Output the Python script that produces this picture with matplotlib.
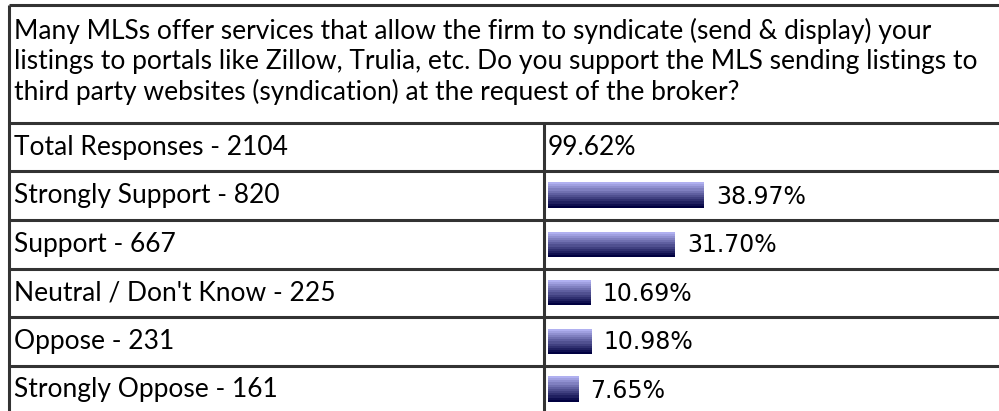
import numpy as np
import matplotlib
matplotlib.use("Agg")
import matplotlib.pyplot as plt
from matplotlib.colors import to_rgb

question = [
    "Many MLSs offer services that allow the firm to syndicate (send & display) your",
    "listings to portals like Zillow, Trulia, etc. Do you support the MLS sending listings to",
    "third party websites (syndication) at the request of the broker?",
]
total_label = "Total Responses - 2104"
total_pct = 99.62
labels = ["Strongly Support - 820", "Support - 667", "Neutral / Don't Know - 225",
          "Oppose - 231", "Strongly Oppose - 161"]
percents = [38.97, 31.70, 10.69, 10.98, 7.65]

W, H = 999, 411
LINE = "#333333"
LABEL_FONT = "Lato"
PCT_FONT = "DejaVu Sans"
LABEL_SIZE = 19

fig = plt.figure(figsize=(W / 100, H / 100), dpi=100)
ax = fig.add_axes([0, 0, 1, 1])
ax.set_xlim(0, W)
ax.set_ylim(H, 0)
ax.axis("off")

# table grid (pixel layout)
top, left, col_x = 5, 8.5, 544
header_bottom, row_h = 123, 48.5
n_rows = len(labels) + 1
row_edges = header_bottom + row_h * np.arange(n_rows + 1)
centers = (row_edges[:-1] + row_edges[1:]) / 2

lw = 2.2
ax.plot([left, W], [top, top], color=LINE, lw=lw, solid_capstyle="butt")
ax.plot([left, left], [top, H], color=LINE, lw=lw, solid_capstyle="butt")
for y in row_edges[:-1]:
    ax.plot([left, W], [y, y], color=LINE, lw=lw, solid_capstyle="butt")
ax.plot([col_x, col_x], [header_bottom, H], color=LINE, lw=lw, solid_capstyle="butt")

# question header
for i, line in enumerate(question):
    ax.text(14, 31 + i * 30.5, line, fontsize=LABEL_SIZE, family=LABEL_FONT,
            va="center", ha="left", color="black")

# row labels
ax.text(14, centers[0], total_label, fontsize=LABEL_SIZE, family=LABEL_FONT,
        va="center", ha="left")
for yc, lab in zip(centers[1:], labels):
    ax.text(14, yc, lab, fontsize=LABEL_SIZE, family=LABEL_FONT, va="center", ha="left")

# bar axes: x in percent (4 px per percent)
px_per_pct = 4.0
bar_left = 548
bx = fig.add_axes([bar_left / W, 0, (W - bar_left) / W, 1])
bx.axis("off")

top_c = np.array(to_rgb("#b0b0f0"))
bot_c = np.array(to_rgb("#000040"))
steps = 12
grad = np.array([top_c + (bot_c - top_c) * t for t in np.linspace(0, 1, steps)])
grad = grad.reshape(steps, 1, 3)

bar_h = 25
bx.text(-0.2, centers[0], f"{total_pct:.2f}%", fontsize=LABEL_SIZE, family=LABEL_FONT,
        va="center", ha="left")
for yc, v in zip(centers[1:], percents):
    bx.imshow(grad, extent=[0, v, yc + bar_h / 2, yc - bar_h / 2],
              origin="upper", aspect="auto", interpolation="nearest")
    bx.text(v + 12 / px_per_pct, yc + 1, f"{v:.2f}%", fontsize=17, family=PCT_FONT,
            va="center", ha="left")

bx.set_xlim(0, (W - bar_left) / px_per_pct)
bx.set_ylim(H, 0)

fig.savefig("out.png", dpi=100)
